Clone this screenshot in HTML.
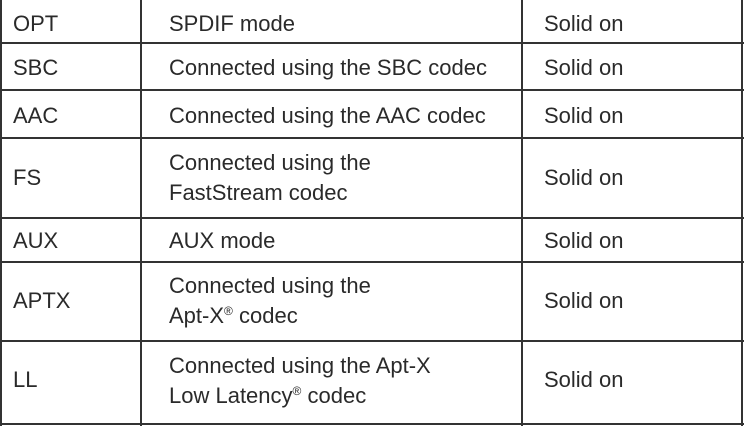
<!DOCTYPE html>
<html><head><style>
body{margin:0;width:744px;height:426px;background:#fff;overflow:hidden;font-family:"Liberation Sans",sans-serif;color:#2a2a2a}
.l{position:absolute;background:#333}
.t{position:absolute;font-size:22px;line-height:30px;white-space:nowrap}
sup{font-size:12px;line-height:0;vertical-align:8px}
</style></head><body>
<div class="l" style="left:0;top:0;width:2px;height:426px"></div>
<div class="l" style="left:140px;top:0;width:2px;height:426px"></div>
<div class="l" style="left:521px;top:0;width:2px;height:426px"></div>
<div class="l" style="left:741px;top:0;width:2px;height:426px"></div>
<div class="l" style="left:0;top:42px;width:744px;height:2px"></div>
<div class="l" style="left:0;top:89px;width:744px;height:2px"></div>
<div class="l" style="left:0;top:137px;width:744px;height:2px"></div>
<div class="l" style="left:0;top:217px;width:744px;height:2px"></div>
<div class="l" style="left:0;top:261px;width:744px;height:2px"></div>
<div class="l" style="left:0;top:340px;width:744px;height:2px"></div>
<div class="l" style="left:0;top:423px;width:744px;height:2px"></div>

<div class="t" style="left:13px;top:9px">OPT</div>
<div class="t" style="left:169px;top:9px">SPDIF mode</div>
<div class="t" style="left:544px;top:9px">Solid on</div>

<div class="t" style="left:13px;top:53px">SBC</div>
<div class="t" style="left:169px;top:53px">Connected using the SBC codec</div>
<div class="t" style="left:544px;top:53px">Solid on</div>

<div class="t" style="left:13px;top:101px">AAC</div>
<div class="t" style="left:169px;top:101px">Connected using the AAC codec</div>
<div class="t" style="left:544px;top:101px">Solid on</div>

<div class="t" style="left:13px;top:163px">FS</div>
<div class="t" style="left:169px;top:148px">Connected using the<br>FastStream codec</div>
<div class="t" style="left:544px;top:163px">Solid on</div>

<div class="t" style="left:13px;top:226px">AUX</div>
<div class="t" style="left:169px;top:226px">AUX mode</div>
<div class="t" style="left:544px;top:226px">Solid on</div>

<div class="t" style="left:13px;top:286px">APTX</div>
<div class="t" style="left:169px;top:271px">Connected using the<br>Apt-X<sup>®</sup> codec</div>
<div class="t" style="left:544px;top:286px">Solid on</div>

<div class="t" style="left:13px;top:365px">LL</div>
<div class="t" style="left:169px;top:351px">Connected using the Apt-X<br>Low Latency<sup>®</sup> codec</div>
<div class="t" style="left:544px;top:365px">Solid on</div>
</body></html>
